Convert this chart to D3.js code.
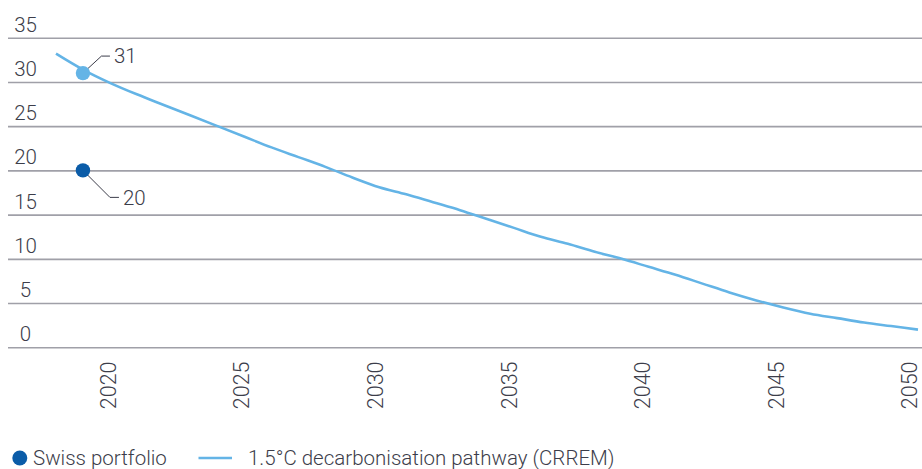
<!DOCTYPE html>
<html>
<head>
<meta charset="utf-8">
<script src="https://cdn.jsdelivr.net/npm/d3@7"></script>
<style>
  html, body { margin: 0; padding: 0; background: #fff; }
  svg { display: block; }
  text { font-family: Roboto, "Liberation Sans", sans-serif; font-weight: 300; fill: #3c3d4a; }
</style>
</head>
<body>
<svg id="chart" width="922" height="469"></svg>
<script>
// CRREM 1.5°C pathway, annual values
const pathwayYears = [2018, 2019, 2020, 2021, 2022, 2023, 2024, 2025, 2026, 2027, 2028,
  2029, 2030, 2031, 2032, 2033, 2034, 2035, 2036, 2037, 2038, 2039, 2040,
  2041, 2042, 2043, 2044, 2045, 2046, 2047, 2048, 2049, 2050];
const pathwayValues = [33.2, 31.4, 29.9, 28.6, 27.4, 26.2, 25.0, 23.8, 22.6, 21.5, 20.4,
  19.2, 18.1, 17.3, 16.4, 15.5, 14.5, 13.5, 12.5, 11.7, 10.8, 10.0, 9.1,
  8.2, 7.2, 6.2, 5.3, 4.5, 3.8, 3.3, 2.8, 2.4, 2.0];

// Labelled points for 2019
const pointYear = 2019;
const portfolioValue = 20;
const pathwayPointValue = 31;

const yTicks = [0, 5, 10, 15, 20, 25, 30, 35];
const xTicks = [2020, 2025, 2030, 2035, 2040, 2045, 2050];
const legendLabels = ["Swiss portfolio", "1.5°C decarbonisation pathway (CRREM)"];

const colors = { portfolio: "#0b5ca8", pathway: "#64b4e6", grid: "#a0a0a8", leader: "#3c3d4a" };
const fontSize = "20.5px";

const svg = d3.select("#chart");
// data positions and year-label positions
const x = d3.scaleLinear().domain([2018, 2050]).range([56, 918]);
const xLabel = d3.scaleLinear().domain([2020, 2050]).range([107.5, 909]);
const y = d3.scaleLinear().domain([0, 35]).range([347.3, 37.7]);

// Horizontal gridlines with values above each line
const yAxis = d3.axisRight(y).tickValues(yTicks).tickSize(914).tickFormat(d => d);
const gy = svg.append("g").attr("transform", "translate(8,0)").call(yAxis);
gy.select(".domain").remove();
gy.selectAll(".tick line").attr("stroke", colors.grid).attr("stroke-width", 1.6);
gy.selectAll(".tick text")
  .attr("x", 17.5).attr("dy", -6.5)
  .attr("text-anchor", "middle")
  .style("font-size", fontSize)
  .style("font-family", null)
  .attr("fill", null);

// Rotated year labels
const xAxis = d3.axisBottom(xLabel).tickValues(xTicks).tickSize(0).tickFormat(d3.format("d"));
const gx = svg.append("g").attr("transform", "translate(0,361.5)").call(xAxis);
gx.select(".domain").remove();
gx.selectAll(".tick text")
  .attr("transform", "rotate(-90)")
  .attr("x", 0).attr("y", 0).attr("dy", "0.36em")
  .attr("text-anchor", "end")
  .style("font-size", "21.5px")
  .style("font-family", null)
  .attr("fill", null);

// Pathway line
const line = d3.line().x(d => x(d[0])).y(d => y(d[1])).curve(d3.curveMonotoneX);
svg.append("path")
  .datum(d3.zip(pathwayYears, pathwayValues))
  .attr("d", line)
  .attr("fill", "none")
  .attr("stroke", colors.pathway)
  .attr("stroke-width", 2.6)
  .attr("stroke-linejoin", "round");

// Leader lines and value labels
const px = x(pointYear);
const pyTop = y(pathwayPointValue);
const pyBot = y(portfolioValue);

svg.append("path")
  .attr("d", `M${px},${pyTop} L${px + 18.5},${pyTop - 17} L${px + 27},${pyTop - 17}`)
  .attr("fill", "none").attr("stroke", colors.leader).attr("stroke-width", 1);
svg.append("text")
  .attr("x", px + 31).attr("y", pyTop - 17).attr("dy", "0.35em")
  .style("font-size", fontSize).text(pathwayPointValue);

svg.append("path")
  .attr("d", `M${px},${pyBot} L${px + 27},${pyBot + 27} L${px + 36},${pyBot + 27}`)
  .attr("fill", "none").attr("stroke", colors.leader).attr("stroke-width", 1);
svg.append("text")
  .attr("x", px + 40).attr("y", pyBot + 27).attr("dy", "0.35em")
  .style("font-size", fontSize).text(portfolioValue);

// Points
svg.append("circle").attr("cx", px).attr("cy", pyTop).attr("r", 7.2).attr("fill", colors.pathway);
svg.append("circle").attr("cx", px).attr("cy", pyBot).attr("r", 7.2).attr("fill", colors.portfolio);

// Legend
const lg = svg.append("g").attr("transform", "translate(0,458)");
lg.append("circle").attr("cx", 19.8).attr("cy", 0).attr("r", 7.5).attr("fill", colors.portfolio);
lg.append("text").attr("x", 33).attr("y", 0).attr("dy", "0.35em").style("font-size", fontSize).text(legendLabels[0]);
lg.append("line").attr("x1", 198.5).attr("x2", 232).attr("y1", 0).attr("y2", 0)
  .attr("stroke", colors.pathway).attr("stroke-width", 2.6);
lg.append("text").attr("x", 248).attr("y", 0).attr("dy", "0.35em").style("font-size", fontSize).text(legendLabels[1]);
</script>
</body>
</html>
